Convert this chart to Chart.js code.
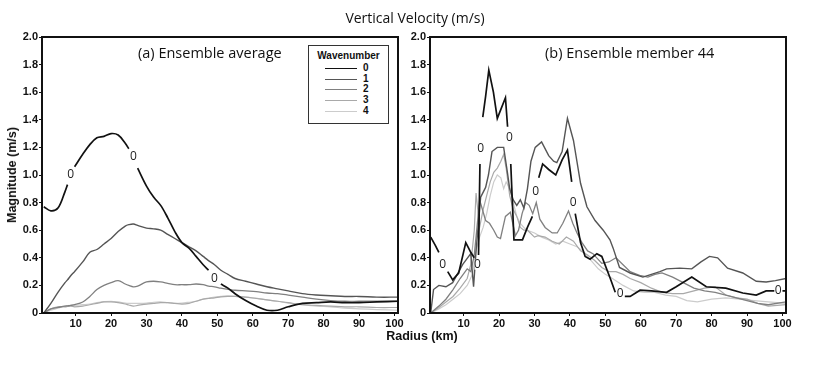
<!DOCTYPE html>
<html>
<head>
<meta charset="utf-8">
<script src="https://cdn.jsdelivr.net/npm/chart.js@4"></script>
<style>
  body { margin: 0; background: #fff; }
  #wrap { position: relative; width: 830px; height: 369px; overflow: hidden; }
  canvas { position: absolute; top: 0; }
  .txt { position: absolute; white-space: nowrap; color: #111; }
  #title { left: 0; width: 830px; top: 8px; text-align: center; font: 14px "Open Sans", sans-serif; }
  #ytitle { left: 12px; top: 175px; transform: translate(-50%, -50%) rotate(-90deg); font: bold 12.5px "Liberation Sans", Arial, sans-serif; }
  #xtitle { left: 422px; top: 336px; transform: translate(-50%, -50%); font: bold 12.5px "Liberation Sans", Arial, sans-serif; }
  .panel { top: 43px; font: 14.5px "Open Sans", sans-serif; }
  #legend { position: absolute; left: 308px; top: 45px; width: 79px; height: 77px; border: 1px solid #333; background: #fff; color: #111; font: bold 10px "Liberation Sans", Arial, sans-serif; }
  #legend .head { text-align: center; margin-top: 4px; }
  #legend .row { position: absolute; left: 16px; height: 10px; }
  #legend .row span.l { position: absolute; left: 0; top: 5px; width: 32px; }
  #legend .row span.t { position: absolute; left: 38px; top: -1px; color: #111; }
</style>
</head>
<body>
<div id="wrap">
  <canvas id="chartA" width="410" height="369" style="left:0"></canvas>
  <canvas id="chartB" width="430" height="369" style="left:400px"></canvas>
  <div id="title" class="txt">Vertical Velocity (m/s)</div>
  <div id="ytitle" class="txt">Magnitude (m/s)</div>
  <div id="xtitle" class="txt">Radius (km)</div>
  <div class="txt panel" style="left:138px">(a) Ensemble average</div>
  <div class="txt panel" style="left:545px">(b) Ensemble member 44</div>
  <div id="legend"><div class="head">Wavenumber</div></div>
</div>
<script>
// wavenumber names and styles
const waveNames = ['0', '1', '2', '3', '4'];
const waveColors = ['#111111', '#555555', '#808080', '#a9a9a9', '#cccccc'];
const waveWidths = [1.7, 1.4, 1.3, 1.2, 1.2];

const xTicks = [10, 20, 30, 40, 50, 60, 70, 80, 90, 100];

// (a) ensemble average, shared radius grid (km)
const radiusA = [1,3,5,7,7.7,8.6,9.7,12,14,16,18,20,22,24,25,26.3,27.5,30,32,34,36,38,40,42,44,46,47.5,49.2,51,53,55,58,61,64,67,70,74,78,82,86,90,95,101];
const avgW0 = [.77,.74,.76,.88,.93,null,1.06,1.15,1.22,1.27,1.28,1.30,1.29,1.23,1.19,null,1.05,.92,.84,.78,.69,.59,.51,.47,.41,.35,.31,null,.21,.18,.14,.09,.05,.02,.02,.045,.07,.075,.08,.075,.075,.08,.085];
const avgW1 = [0,.07,.15,.22,.24,.27,.30,.37,.44,.46,.5,.54,.59,.63,.64,.645,.635,.615,.61,.6,.57,.54,.51,.48,.45,.41,.38,.35,.31,.28,.25,.23,.21,.19,.175,.16,.14,.13,.125,.12,.12,.115,.115];
const avgW2 = [0,.03,.04,.05,.052,.055,.06,.08,.12,.17,.2,.22,.235,.21,.2,.19,.195,.225,.23,.225,.215,.205,.205,.205,.21,.205,.195,.19,.18,.172,.165,.16,.155,.145,.14,.13,.115,.1,.09,.085,.085,.085,.085];
const avgW3 = [0,.03,.045,.045,.047,.05,.045,.05,.06,.07,.08,.08,.075,.065,.058,.05,.055,.065,.07,.075,.075,.07,.065,.07,.085,.1,.105,.11,.117,.12,.12,.115,.105,.095,.085,.075,.06,.055,.05,.045,.045,.04,.04];
const avgW4 = [0,.02,.035,.05,.053,.055,.055,.06,.065,.075,.082,.085,.08,.072,.07,.07,.07,.072,.078,.08,.075,.07,.072,.078,.085,.1,.108,.115,.12,.125,.12,.115,.108,.095,.085,.072,.06,.05,.045,.035,.03,.025,.02];
// contour-style "0" labels on the wavenumber 0 curve
const labelRadiusA = [8.6, 26.3, 49.2];
const labelValueA = [1.0, 1.13, 0.25];

// (b) ensemble member 44
const memW0R = [0.7,2,3,4.1,5.5,6.9,8.6,10.6,11.4,12,13,13.9,14.2,14.6,14.8,15.4,16.2,17.1,18.4,19.5,21.8,22.4,22.9,23.3,24.2,26.6,28,29.4,30.3,31.2,32.3,34,36,37.8,39.3,40.5,40.9,41.5,43,44.3,45.7,47.6,49,51.4,52.8,54.2,55.5,57,59.8,63,67.3,70,74.4,78.5,84,88.8,92.6,95.4,97.7,98.8,100,101];
const memW0 = [.55,.49,.44,null,.30,.24,.29,.51,.47,.44,.40,null,.42,1.08,null,1.42,1.57,1.76,1.6,1.41,1.56,1.35,null,1.08,.53,.53,.62,.70,null,.98,1.08,1.04,1.0,1.11,1.18,.95,null,.72,.51,.41,.39,.43,.41,.25,.15,null,.12,.12,.165,.16,.15,.19,.26,.19,.18,.145,.13,.16,.16,null,.16,.16];
const memW1R = [0.7,1.5,3,5,6.9,9.7,12,12.8,13.5,14.5,14.8,16.2,17,18,19.5,21.3,22.4,23,24,25,26,27,28,29,30.2,32,34,35.4,36.3,37.8,39.3,41,43,44.8,47.1,49.4,51.3,52.2,54,57,60.6,63,65.4,67.3,71,74.4,77,79.4,81.7,84.5,88.8,92.6,95.4,98,101];
const memW1 = [0,.17,.2,.19,.22,.35,.43,.19,.45,.75,.84,.91,1.0,1.17,1.2,1.2,1.01,.9,.82,.78,.82,.76,.9,1.1,1.2,1.24,1.14,1.1,1.09,1.17,1.41,1.25,.94,.77,.67,.6,.53,.47,.33,.29,.26,.28,.3,.32,.325,.32,.37,.41,.4,.325,.29,.23,.225,.235,.25];
const memW2R = [0.7,3,5,7,9,11,12,13,13.8,14.5,15.3,16.2,17.3,18.5,19.5,20.4,21.8,23.2,24.6,25.5,26.5,27.5,28.5,29.5,30.5,31.5,33,35,36.4,38,39.6,40.8,42,43.4,45,46.5,49,51,53,55,57,60,62,64,66,69,72,75,78,81,84,87,90,93,96,101];
const memW2 = [0,.05,.1,.17,.25,.32,.3,.42,.63,.82,.75,.67,.65,.6,.55,.54,.7,.73,.56,.6,.72,.8,.78,.72,.8,.68,.62,.58,.58,.65,.74,.65,.58,.51,.45,.43,.36,.37,.4,.35,.3,.27,.26,.28,.29,.26,.22,.18,.16,.15,.13,.11,.09,.07,.06,.08];
const memW3R = [0.7,3,5,7,9,11,12,13,13.5,14.5,15.5,16.5,17.5,18.5,19.5,20.5,21.3,22,23,24,25,26,27,28,30,31,33,35,37,39,41,43,45,47,49,51,53,55,57,60,63,66,69,72,75,78,81,84,87,90,93,96,101];
const memW3 = [0,.04,.08,.12,.18,.25,.35,.6,.87,.62,.75,.85,.95,1.02,1.05,1.1,1.15,1.05,.85,.75,.7,.62,.6,.6,.55,.56,.55,.52,.5,.55,.52,.45,.42,.38,.33,.3,.3,.28,.25,.22,.18,.15,.14,.14,.16,.18,.19,.13,.11,.1,.07,.05,.06];
const memW4R = [0.7,3,5,7,9,11,12.5,13.5,14.5,15.5,16.5,17.5,18.5,19.5,20.5,21.3,22,23,24,25,26,27,28,30,32,34,36,38,40,42,44,46,48,50,52,55,58,61,64,67,70,73,76,80,84,88,92,96,101];
const memW4 = [0,.03,.06,.1,.14,.2,.28,.45,.55,.62,.72,.85,.95,1.0,.98,.9,.95,.9,.8,.7,.65,.62,.6,.58,.55,.53,.5,.52,.5,.48,.44,.38,.32,.28,.25,.2,.16,.15,.15,.13,.12,.09,.08,.1,.11,.1,.09,.08,.07];
const labelRadiusB = [4.1, 13.9, 14.8, 22.9, 30.3, 40.9, 54.2, 98.8];
const labelValueB = [0.35, 0.35, 1.19, 1.27, 0.88, 0.80, 0.14, 0.16];

function pts(rs, vs) {
  return rs.map((r, i) => ({ x: r, y: vs[i] }));
}

function makeSets(series, tension) {
  // wavenumber 0 drawn last so it sits on top
  return series.map((s, i) => ({
    label: waveNames[i],
    data: s,
    borderColor: waveColors[i],
    borderWidth: waveWidths[i],
    pointRadius: 0,
    tension: tension,
    spanGaps: false,
    order: i === 0 ? -1 : i
  }));
}

const boxPlugin = {
  id: 'box',
  afterDatasetsDraw(chart, args, opts) {
    const ctx = chart.ctx;
    const xs = chart.scales.x, ys = chart.scales.y;
    ctx.save();
    ctx.font = '12px "Open Sans", sans-serif';
    ctx.textAlign = 'center';
    ctx.textBaseline = 'middle';
    opts.lr.forEach((r, i) => {
      const px = xs.getPixelForValue(r), py = ys.getPixelForValue(opts.lv[i]);
      ctx.fillStyle = '#fff';
      ctx.fillRect(px - 3, py - 5, 6, 10);
      ctx.fillStyle = '#222';
      ctx.fillText('0', px, py);
    });
    ctx.restore();
  },
  afterDraw(chart) {
    const a = chart.chartArea, ctx = chart.ctx;
    ctx.save();
    ctx.strokeStyle = '#111';
    ctx.lineWidth = 2;
    ctx.strokeRect(a.left, a.top, a.right - a.left, a.bottom - a.top);
    ctx.restore();
  }
};

function makeChart(id, series, tension, yWidth, padRight, lr, lv) {
  return new Chart(document.getElementById(id), {
    type: 'line',
    data: { datasets: makeSets(series, tension) },
    options: {
      responsive: false,
      animation: false,
      devicePixelRatio: 1,
      layout: { padding: { top: 37, right: padRight, left: 0, bottom: 0 } },
      plugins: { legend: { display: false }, tooltip: { enabled: false }, box: { lr: lr, lv: lv } },
      scales: {
        x: {
          type: 'linear', min: 0.5, max: 101,
          afterBuildTicks: s => { s.ticks = xTicks.map(v => ({ value: v })); },
          afterFit: s => { s.height = 56; },
          grid: { drawOnChartArea: false, tickLength: 3, color: '#111' },
          border: { display: false },
          ticks: { padding: 1, color: '#111', maxRotation: 0, font: { family: '"Liberation Sans", Arial', size: 11, weight: 'bold' } }
        },
        y: {
          min: 0, max: 2,
          afterFit: s => { s.width = yWidth; },
          grid: { drawOnChartArea: false, tickLength: 3, color: '#111' },
          border: { display: false },
          ticks: {
            stepSize: 0.2, padding: 1, color: '#111',
            font: { family: '"Liberation Sans", Arial', size: 11, weight: 'bold' },
            callback: v => Math.abs(v) < 1e-9 ? '0' : v.toFixed(1)
          }
        }
      }
    },
    plugins: [boxPlugin]
  });
}

makeChart('chartA', [
  pts(radiusA, avgW0), pts(radiusA, avgW1), pts(radiusA, avgW2), pts(radiusA, avgW3), pts(radiusA, avgW4)
], 0.35, 42, 12, labelRadiusA, labelValueA);

makeChart('chartB', [
  pts(memW0R, memW0), pts(memW1R, memW1), pts(memW2R, memW2), pts(memW3R, memW3), pts(memW4R, memW4)
], 0, 30, 44, labelRadiusB, labelValueB);

// legend box inside panel (a)
const legendDom = document.getElementById('legend');
waveNames.forEach((n, i) => {
  const row = document.createElement('div');
  row.className = 'row';
  row.style.top = (17 + i * 10.7) + 'px';
  row.innerHTML = `<span class="l" style="border-top:${waveWidths[i]}px solid ${waveColors[i]}"></span><span class="t">${n}</span>`;
  legendDom.appendChild(row);
});
</script>
</body>
</html>
